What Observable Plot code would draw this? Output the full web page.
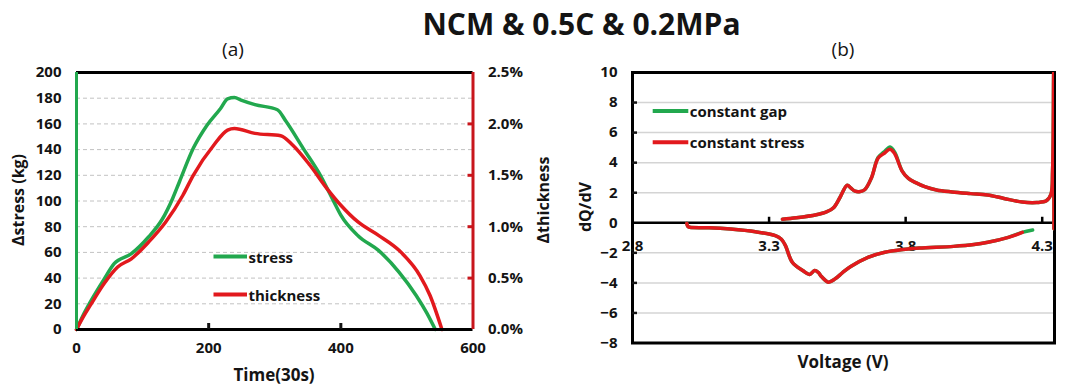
<!DOCTYPE html>
<html><head><meta charset="utf-8">
<script src="https://cdn.jsdelivr.net/npm/d3@7"></script>
<script src="https://cdn.jsdelivr.net/npm/@observablehq/plot@0.6"></script>
<style>
body{margin:0;background:#fff;}
#root{position:relative;width:1080px;height:391px;overflow:hidden;font-family:"Open Sans",sans-serif;}
.chart{position:absolute;top:0;}
#overlay{position:absolute;left:0;top:0;pointer-events:none;}
</style></head><body><div id="root"></div>
<script>
// ---------- Panel (a) data ----------
const timeStress = [0, 10, 20.8, 41.6, 57, 83, 109, 130, 145.5, 155.8, 176.7, 197.5, 218, 228.6, 239, 249, 270, 304, 317, 343, 369, 389.6, 400, 426, 457, 488, 514, 530, 543];
const stressKg   = [0, 11, 21.3, 39, 51.2, 59, 72, 86, 102, 115, 141, 159, 172, 179.5, 180.5, 178.5, 175, 171, 162, 141, 120, 99.3, 89, 73, 61.6, 44.7, 26.5, 13, 0];
const timeThick  = [0, 10, 20.8, 41.6, 62.3, 83, 109, 135, 161, 176.7, 207.9, 228.6, 239, 270, 309, 327, 353, 379, 400, 426, 457, 488, 519.6, 535, 553];
const thickPct   = [0, 0.12, 0.234, 0.445, 0.608, 0.688, 0.85, 1.046, 1.306, 1.5, 1.795, 1.94, 1.956, 1.908, 1.885, 1.795, 1.6, 1.371, 1.209, 1.046, 0.916, 0.77, 0.525, 0.331, 0];
const timeTicks  = [0, 200, 400, 600];
const stressTicks = [0, 20, 40, 60, 80, 100, 120, 140, 160, 180, 200];
const thickTicks = [0, 0.5, 1.0, 1.5, 2.0, 2.5];

// ---------- Panel (b) data ----------
const chargeV  = [3.349, 3.40, 3.473, 3.51, 3.536, 3.56, 3.586, 3.60, 3.615, 3.630, 3.65, 3.675, 3.699, 3.72, 3.743, 3.76, 3.787, 3.81, 3.837, 3.87, 3.913, 3.97, 4.038, 4.10, 4.16, 4.227, 4.28, 4.315, 4.332, 4.338, 4.342, 4.343];
const stressChargeQ = [0.24, 0.33, 0.53, 0.72, 1.0, 1.7, 2.5, 2.3, 2.1, 2.07, 2.2, 3.0, 4.3, 4.6, 4.9, 4.6, 3.44, 2.95, 2.67, 2.4, 2.18, 2.05, 1.94, 1.85, 1.62, 1.38, 1.35, 1.46, 1.9, 3.5, 10, -0.4];
const gapChargeQ    = [0.24, 0.33, 0.53, 0.72, 1.0, 1.7, 2.5, 2.3, 2.1, 2.07, 2.2, 3.0, 4.35, 4.7, 5.05, 4.7, 3.46, 2.95, 2.67, 2.4, 2.18, 2.05, 1.94, 1.85, 1.62, 1.38, 1.35, 1.46, 1.9, 3.5, 10, -0.4];
const dischargeV = [2.999, 3.003, 3.01, 3.08, 3.159, 3.25, 3.323, 3.345, 3.36, 3.385, 3.423, 3.448, 3.467, 3.48, 3.492, 3.517, 3.542, 3.57, 3.599, 3.662, 3.724, 3.79, 3.850, 3.976, 4.05, 4.101, 4.176, 4.227];
const stressDischargeQ = [-0.05, -0.25, -0.3, -0.33, -0.42, -0.6, -0.86, -1.1, -1.52, -2.63, -3.18, -3.44, -3.18, -3.3, -3.58, -3.95, -3.73, -3.3, -2.91, -2.3, -1.96, -1.78, -1.68, -1.57, -1.45, -1.3, -0.97, -0.64];
const gapDischargeV = [2.999, 3.003, 3.01, 3.08, 3.159, 3.25, 3.323, 3.345, 3.36, 3.385, 3.423, 3.448, 3.467, 3.48, 3.492, 3.517, 3.542, 3.57, 3.599, 3.662, 3.724, 3.79, 3.850, 3.976, 4.05, 4.101, 4.176, 4.227, 4.265];
const gapDischargeQ = [-0.05, -0.25, -0.3, -0.33, -0.42, -0.6, -0.86, -1.1, -1.52, -2.63, -3.18, -3.44, -3.18, -3.3, -3.58, -3.95, -3.73, -3.3, -2.91, -2.3, -1.96, -1.78, -1.68, -1.57, -1.45, -1.3, -0.97, -0.64, -0.48];
const voltTicks = [2.8, 3.3, 3.8, 4.3];
const dqTicks = [-8, -6, -4, -2, 0, 2, 4, 6, 8, 10];

const GREEN = "#22a84e", RED = "#e2191d", AXRED = "#c8161c", INK = "#141414";
const K = 200 / 2.5; // thickness % -> stress-axis units

const stress = timeStress.map((t, i) => ({t, v: stressKg[i]}));
const thick = timeThick.map((t, i) => ({t, v: thickPct[i] * K}));
const mk = (xs, ys) => xs.map((x, i) => ({x, y: ys[i]}));

const baseStyle = {fontFamily: "'Open Sans', sans-serif", fontSize: "15px", fontWeight: "bold", color: INK, background: "transparent", overflow: "visible"};

const left = Plot.plot({
  width: 540, height: 391,
  marginLeft: 76, marginRight: 67.5, marginTop: 72, marginBottom: 62,
  style: baseStyle,
  x: {domain: [0, 600]},
  y: {domain: [0, 200]},
  marks: [
    Plot.gridY(stressTicks.filter(d => d > 0 && d < 200), {stroke: "#c2c2c2", strokeOpacity: 1, strokeDasharray: "4,3", strokeWidth: 1}),
    Plot.line(stress, {x: "t", y: "v", stroke: GREEN, strokeWidth: 3.5, curve: "monotone-x"}),
    Plot.line(thick, {x: "t", y: "v", stroke: RED, strokeWidth: 3.5, curve: "monotone-x"}),
    Plot.ruleY([200], {stroke: "#000", strokeWidth: 3}),
    Plot.ruleY([0], {stroke: "#000", strokeWidth: 3}),
    Plot.ruleX([0], {stroke: GREEN, strokeWidth: 3}),
    Plot.ruleX([600], {stroke: AXRED, strokeWidth: 3}),
    Plot.axisX(timeTicks.slice(1, -1), {tickSize: -6, strokeWidth: 3, tickFormat: () => "", label: null}),
    Plot.axisX(timeTicks, {tickSize: 0, tickPadding: 13, label: null, fontSize: 15, fontWeight: "bold"}),
    Plot.axisY(stressTicks, {tickSize: 0, tickPadding: 15, label: null, fontSize: 15, fontWeight: "bold"}),
    Plot.axisY(thickTicks.slice(1, -1).map(d => d * K), {anchor: "right", tickSize: -6, strokeWidth: 3, stroke: AXRED, tickFormat: () => "", label: null}),
    Plot.axisY(thickTicks.map(d => d * K), {anchor: "right", tickSize: 0, tickPadding: 15, label: null, fontSize: 15, fontWeight: "bold", tickFormat: d => (d / K).toFixed(1) + "%"})
  ]
});
left.classList.add("chart");
left.style.left = "0px";

const right = Plot.plot({
  width: 540, height: 391,
  marginLeft: 92, marginRight: 26, marginTop: 72, marginBottom: 48.5,
  style: baseStyle,
  x: {domain: [2.8, 4.345], axis: null},
  y: {domain: [-8, 10]},
  marks: [
    Plot.gridY(dqTicks.filter(d => d !== 0 && d !== 10 && d !== -8), {stroke: "#d4d4d4", strokeOpacity: 1, strokeWidth: 1.5}),
    Plot.frame({stroke: "#000", strokeWidth: 3}),
    Plot.ruleY([0], {stroke: "#000", strokeWidth: 2.5}),
    Plot.link(voltTicks.slice(1), {x1: d => d, x2: d => d, y1: 0, y2: 0.4, stroke: "#000", strokeWidth: 2.5}),
    Plot.axisY(dqTicks.filter(d => d !== 0 && d !== 10 && d !== -8), {tickSize: -5, strokeWidth: 2.5, tickFormat: () => "", label: null}),
    Plot.axisY(dqTicks, {tickSize: 0, tickPadding: 15, label: null, fontSize: 15, fontWeight: "bold"}),
    Plot.text(voltTicks, {x: d => d, y: 0, dy: 23, text: d => d.toFixed(1), fontSize: 15, fontWeight: "bold", fill: INK}),
    Plot.line(mk(chargeV, gapChargeQ), {x: "x", y: "y", stroke: GREEN, strokeWidth: 3.5, clip: true, curve: "catmull-rom"}),
    Plot.line(mk(gapDischargeV, gapDischargeQ), {x: "x", y: "y", stroke: GREEN, strokeWidth: 3.5, clip: true, curve: "catmull-rom"}),
    Plot.line(mk(chargeV, stressChargeQ), {x: "x", y: "y", stroke: RED, strokeWidth: 3.5, clip: true, curve: "catmull-rom"}),
    Plot.line(mk(dischargeV, stressDischargeQ), {x: "x", y: "y", stroke: RED, strokeWidth: 3.5, clip: true, curve: "catmull-rom"})
  ]
});
right.classList.add("chart");
right.style.left = "540px";

const root = document.getElementById("root");
root.appendChild(left);
root.appendChild(right);

// ---------- overlay texts & legends ----------
const ov = d3.select(root).append("svg").attr("id", "overlay").attr("width", 1080).attr("height", 391)
  .style("font-family", "'Open Sans', sans-serif").style("fill", INK);

function txt(s, x, y, size, weight, rot) {
  const t = ov.append("text").text(s).attr("text-anchor", "middle").attr("font-size", size).attr("font-weight", weight);
  if (rot) {
    t.attr("transform", `translate(${x},${y}) rotate(${rot})`).attr("dominant-baseline", "central");
  } else {
    t.attr("x", x).attr("y", y);
  }
  return t;
}
txt("NCM & 0.5C & 0.2MPa", 581.5, 35, 30, "bold");
txt("(a)", 233, 56, 19, "normal");
txt("(b)", 843, 56, 19, "normal");
txt("Δstress (kg)", 18, 200, 16, "bold", -90);
txt("Δthickness", 543, 200, 16, "bold", -90);
txt("dQ/dV", 585, 207, 16, "bold", -90);
txt("Time(30s)", 274, 381, 17, "bold");
txt("Voltage (V)", 843, 368, 17, "bold");

function legendItem(x1, x2, y, color, label) {
  ov.append("line").attr("x1", x1).attr("x2", x2).attr("y1", y).attr("y2", y).attr("stroke", color).attr("stroke-width", 4);
  ov.append("text").text(label).attr("x", x2 + 1.5).attr("y", y).attr("dominant-baseline", "central")
    .attr("font-size", 15).attr("font-weight", "bold");
}
legendItem(213.5, 247, 256.5, GREEN, "stress");
legendItem(213.5, 247, 294.5, RED, "thickness");
legendItem(652.7, 688.3, 111, GREEN, "constant gap");
legendItem(652.7, 688.3, 142.3, RED, "constant stress");
</script></body></html>
